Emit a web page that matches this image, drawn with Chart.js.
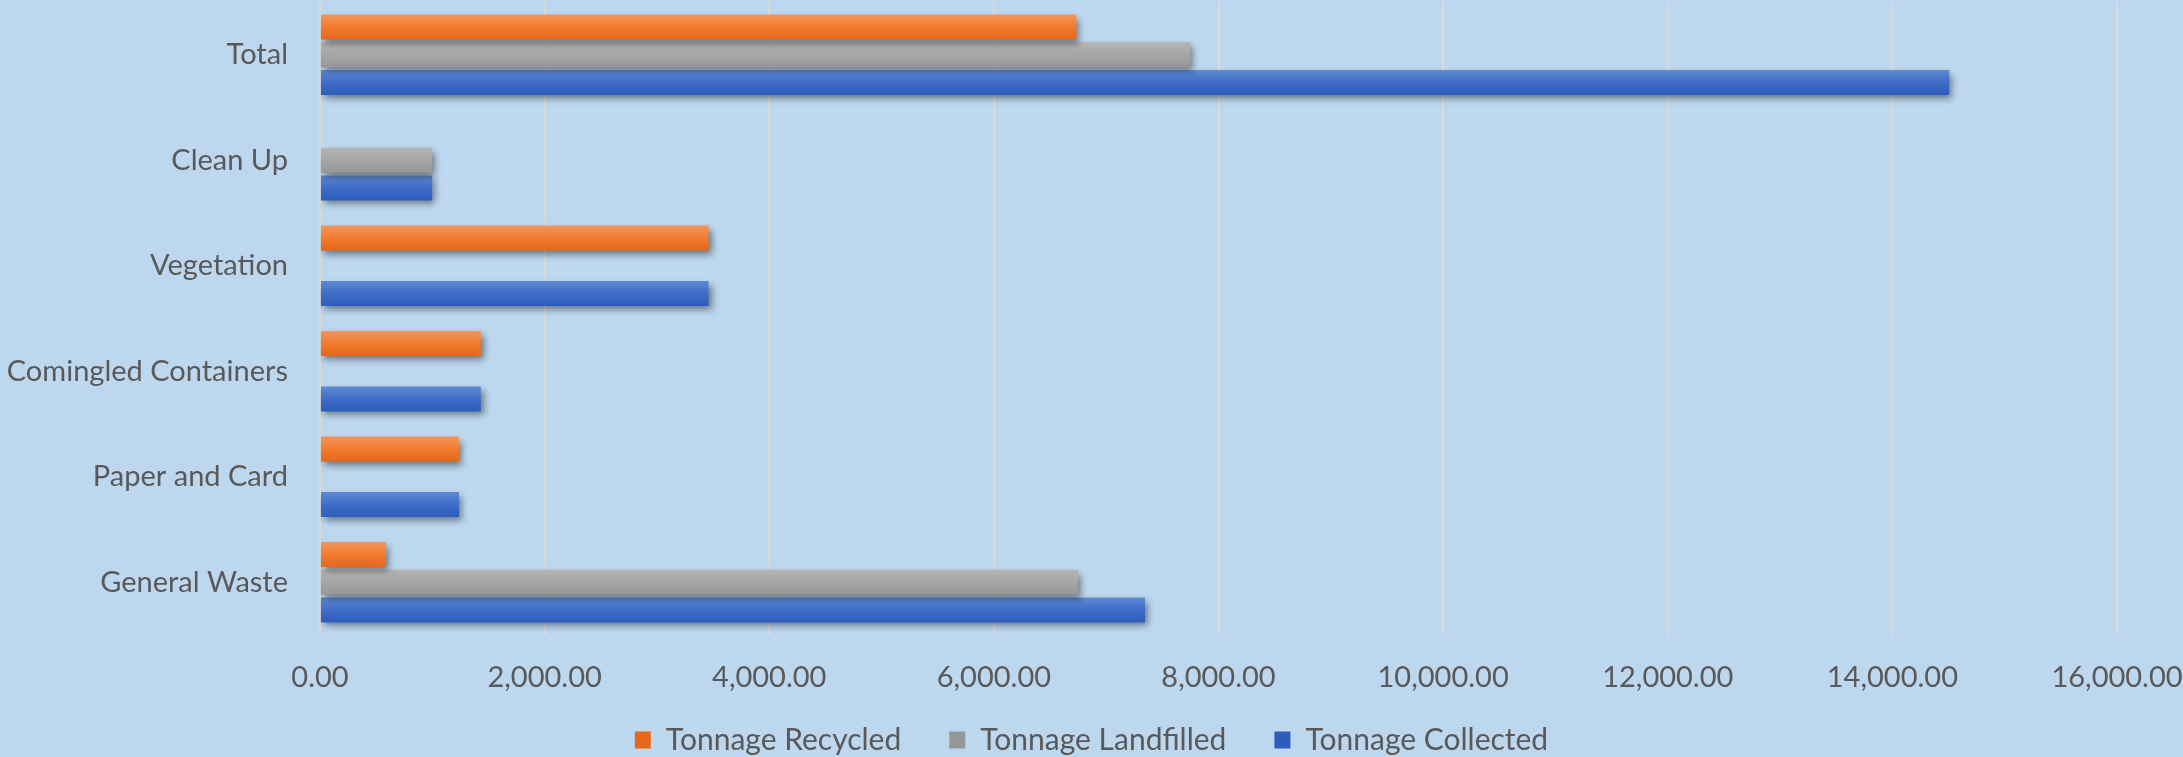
<!DOCTYPE html>
<html><head><meta charset="utf-8">
<script src="https://cdn.jsdelivr.net/npm/chart.js@4/dist/chart.umd.min.js"></script>
<style>html,body{margin:0;padding:0;background:#BDD7EE;overflow:hidden}</style>
</head><body>
<canvas id="c" width="2183" height="757"></canvas>
<script>
const categories = ["Total", "Clean Up", "Vegetation", "Comingled Containers", "Paper and Card", "General Waste"];
const tonnageRecycled = [6735, null, 3460, 1432, 1238, 588];
const tonnageLandfilled = [7750, 998, null, null, null, 6750];
const tonnageCollected = [14506, 998, 3460, 1432, 1238, 7346];
const seriesNames = ["Tonnage Recycled", "Tonnage Landfilled", "Tonnage Collected"];
const xTickMin = 0, xTickMax = 16000, xTickStep = 2000;

const CAT_PCT = 0.787, BAR_PCT = 0.9;
const FONT = "Lato";
const TEXT = "#595959";

function gradFill(stops) {
  return function (ctx) {
    const chart = ctx.chart;
    const c = chart.ctx;
    const y = chart.scales && chart.scales.y;
    let y0, y1;
    if (ctx.type === 'data' && y && y.bottom > y.top) {
      const band = (y.bottom - y.top) / categories.length;
      const slot = band * CAT_PCT / 3;
      const center = y.getPixelForValue(ctx.dataIndex) + (ctx.datasetIndex - 1) * slot;
      const h = slot * BAR_PCT;
      y0 = center - h / 2; y1 = center + h / 2;
    } else {
      y0 = 731; y1 = 748;
    }
    const g = c.createLinearGradient(0, y0, 0, y1);
    g.addColorStop(0, stops[0]);
    g.addColorStop(0.5, stops[1]);
    g.addColorStop(1, stops[2]);
    return g;
  };
}

const shadowPlugin = {
  id: 'shadow',
  beforeDatasetsDraw(chart) {
    const c = chart.ctx; c.save();
    c.shadowColor = 'rgba(0,0,0,0.45)'; c.shadowBlur = 7; c.shadowOffsetX = 3; c.shadowOffsetY = 4;
  },
  afterDatasetsDraw(chart) { chart.ctx.restore(); }
};
const bgPlugin = {
  id: 'bg',
  beforeDraw(chart) { const c = chart.ctx; c.save(); c.fillStyle = '#BDD7EE'; c.fillRect(0, 0, chart.width, chart.height); c.restore(); }
};

new Chart(document.getElementById('c'), {
  type: 'bar',
  data: {
    labels: categories,
    datasets: [
      { label: seriesNames[0], data: tonnageRecycled, backgroundColor: gradFill(['#F4955A', '#F07C2E', '#E5671A']) },
      { label: seriesNames[1], data: tonnageLandfilled, backgroundColor: gradFill(['#B4B4B4', '#A6A6A6', '#969696']) },
      { label: seriesNames[2], data: tonnageCollected, backgroundColor: gradFill(['#5F8AD3', '#3F6DC8', '#2D5DBB']) }
    ]
  },
  options: {
    indexAxis: 'y',
    responsive: false,
    animation: false,
    devicePixelRatio: 1,
    categoryPercentage: CAT_PCT,
    barPercentage: BAR_PCT,
    layout: { padding: { top: 2, right: 0, bottom: -8, left: 0 } },
    plugins: {
      tooltip: { enabled: false },
      legend: {
        position: 'bottom',
        labels: { font: { family: FONT, size: 30 }, color: TEXT, boxWidth: 16, boxHeight: 17, padding: 48 }
      }
    },
    scales: {
      x: {
        min: xTickMin, max: xTickMax,
        ticks: {
          stepSize: xTickStep, padding: -60, mirror: true, color: TEXT, font: { family: FONT, size: 29 },
          maxRotation: 0, autoSkip: false,
          callback: function (v) { return Number(v).toLocaleString('en-US', { minimumFractionDigits: 2, maximumFractionDigits: 2 }); }
        },
        grid: { color: '#D9D9D9', lineWidth: 2, drawTicks: false },
        border: { display: false },
        afterFit: function (s) { s.height = 42; s.paddingLeft = 0; s.paddingRight = 66; }
      },
      y: {
        ticks: { padding: 32, color: TEXT, font: { family: FONT, size: 29 } },
        grid: { display: false, drawTicks: false },
        border: { display: false },
        afterFit: function (s) { s.width = 320; s.paddingTop = 0; s.paddingBottom = 0; }
      }
    }
  },
  plugins: [bgPlugin, shadowPlugin]
});
</script>
</body></html>
